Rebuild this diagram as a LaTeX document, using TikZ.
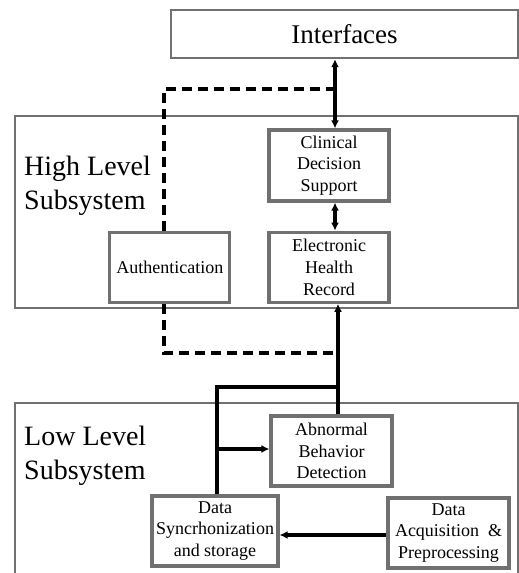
\documentclass[tikz,border=0pt]{standalone}
\usepackage{fontspec}
\setmainfont{Liberation Serif}
\usetikzlibrary{positioning,arrows.meta}
\definecolor{boxgray}{RGB}{112,112,112}

\begin{document}
\begin{tikzpicture}[x=1pt,y=-1pt,>={Latex[length=8pt,width=8pt]},
        block/.style={draw=boxgray,line width=3.2pt,minimum width=120pt,minimum height=70pt,
            inner sep=0pt,align=center,font=\fontsize{18}{21.7}\selectfont},
        layer/.style={draw=boxgray,line width=2.4pt},
        title/.style={align=left,anchor=west,inner sep=0pt,font=\fontsize{28}{34}\selectfont},
        link/.style={line width=3.3pt},
        dlink/.style={link,dash pattern=on 10pt off 6pt}]
    \useasboundingbox (0,0) rectangle (519,573);
    \clip (0,0) rectangle (519,573);
    % layers
    \node[layer,minimum width=347pt,minimum height=48pt,font=\fontsize{27}{32}\selectfont] (iface) at (344.5,34) {Interfaces};
    \draw[layer] (15,116) rectangle (518,308);
    \draw[layer] (15,403) rectangle (518,600);
    \node[title] (high) at (24,186) {High Level\\Subsystem};
    \node[title] (low) at (24,456) {Low Level\\Subsystem};
    % blocks
    \node[block,minimum height=71pt] (cds) at (329,165.5) {Clinical\\Decision\\Support};
    \node[block] (ehr) [below=28pt of cds] {Electronic\\Health\\Record};
    \node[block] (auth) [left=36pt of ehr] {Authentication};
    \node[block,minimum width=121pt] (abd) at (331.5,451) {Abnormal\\Behavior\\Detection};
    \node[block,minimum width=126pt] (sync) at (215,531) {Data\\Syncrhonization\\and storage};
    \node[block,minimum width=121pt] (acq) at (448.5,533) {Data\\Acquisition~~\&\\Preprocessing};
    % routing
    \coordinate (bus) at (335,0);
    \coordinate (trunk) at (338,0);
    \coordinate (authx) at (164,0);
    \coordinate (syncx) at (217,0);
    \coordinate (upper) at (0,89);
    \coordinate (lower) at (0,353);
    \coordinate (merge) at (0,387);
    \coordinate (tap) at (0,449);
    \coordinate (feed) at (0,535);
    \draw[link,<->] (iface.south -| bus) -- (cds.north -| bus);
    \draw[link,<->] (cds.south -| bus) -- (ehr.north -| bus);
    \draw[dlink] (auth.north -| authx) |- (upper -| bus);
    \draw[dlink] (auth.south -| authx) |- (lower -| trunk);
    \draw[link,->] (abd.north -| trunk) -- (ehr.south -| trunk);
    \draw[link] (sync.north -| syncx) |- (merge -| trunk);
    \draw[link,->] (tap -| syncx) -- (abd.west |- tap);
    \draw[link,->] (acq.west |- feed) -- (sync.east |- feed);
\end{tikzpicture}
\end{document}
